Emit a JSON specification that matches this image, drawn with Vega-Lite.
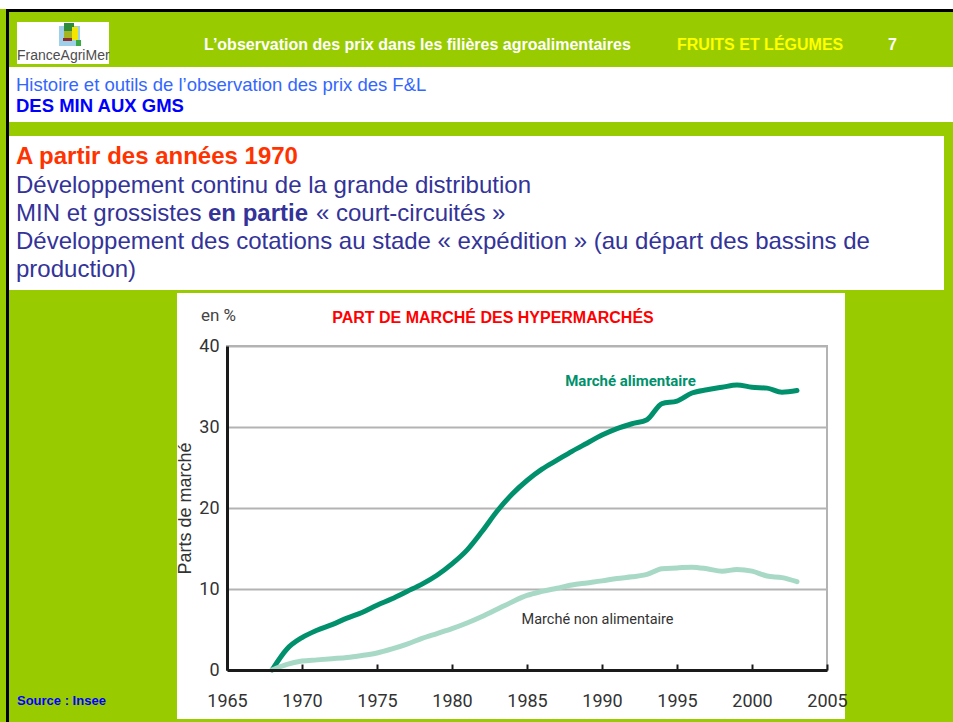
{
  "$schema": "https://vega.github.io/schema/vega-lite/v6.json",
  "width": 600,
  "height": 324,
  "autosize": {"type": "none"},
  "padding": {"left": 227, "top": 346, "right": 126, "bottom": 52},
  "background": "#99cc00",
  "config": {
    "view": {"stroke": "#b3b3b3", "strokeWidth": 2, "fill": "#ffffff"},
    "text": {"font": "Liberation Sans"}
  },
  "datasets": {
    "series": [
      {"year": 1968, "value": 0, "serie": "Marché alimentaire"},
      {"year": 1969, "value": 2.6, "serie": "Marché alimentaire"},
      {"year": 1970, "value": 4.0, "serie": "Marché alimentaire"},
      {"year": 1971, "value": 4.9, "serie": "Marché alimentaire"},
      {"year": 1972, "value": 5.6, "serie": "Marché alimentaire"},
      {"year": 1973, "value": 6.4, "serie": "Marché alimentaire"},
      {"year": 1974, "value": 7.1, "serie": "Marché alimentaire"},
      {"year": 1975, "value": 8.0, "serie": "Marché alimentaire"},
      {"year": 1976, "value": 8.8, "serie": "Marché alimentaire"},
      {"year": 1977, "value": 9.7, "serie": "Marché alimentaire"},
      {"year": 1978, "value": 10.6, "serie": "Marché alimentaire"},
      {"year": 1979, "value": 11.7, "serie": "Marché alimentaire"},
      {"year": 1980, "value": 13.1, "serie": "Marché alimentaire"},
      {"year": 1981, "value": 14.8, "serie": "Marché alimentaire"},
      {"year": 1982, "value": 17.1, "serie": "Marché alimentaire"},
      {"year": 1983, "value": 19.6, "serie": "Marché alimentaire"},
      {"year": 1984, "value": 21.7, "serie": "Marché alimentaire"},
      {"year": 1985, "value": 23.4, "serie": "Marché alimentaire"},
      {"year": 1986, "value": 24.8, "serie": "Marché alimentaire"},
      {"year": 1987, "value": 25.9, "serie": "Marché alimentaire"},
      {"year": 1988, "value": 27.0, "serie": "Marché alimentaire"},
      {"year": 1989, "value": 28.0, "serie": "Marché alimentaire"},
      {"year": 1990, "value": 29.0, "serie": "Marché alimentaire"},
      {"year": 1991, "value": 29.8, "serie": "Marché alimentaire"},
      {"year": 1992, "value": 30.4, "serie": "Marché alimentaire"},
      {"year": 1993, "value": 30.9, "serie": "Marché alimentaire"},
      {"year": 1994, "value": 32.9, "serie": "Marché alimentaire"},
      {"year": 1995, "value": 33.2, "serie": "Marché alimentaire"},
      {"year": 1996, "value": 34.2, "serie": "Marché alimentaire"},
      {"year": 1997, "value": 34.6, "serie": "Marché alimentaire"},
      {"year": 1998, "value": 34.9, "serie": "Marché alimentaire"},
      {"year": 1999, "value": 35.2, "serie": "Marché alimentaire"},
      {"year": 2000, "value": 34.9, "serie": "Marché alimentaire"},
      {"year": 2001, "value": 34.8, "serie": "Marché alimentaire"},
      {"year": 2002, "value": 34.3, "serie": "Marché alimentaire"},
      {"year": 2003, "value": 34.5, "serie": "Marché alimentaire"},
      {"year": 1968, "value": 0, "serie": "Marché non alimentaire"},
      {"year": 1969, "value": 0.7, "serie": "Marché non alimentaire"},
      {"year": 1970, "value": 1.1, "serie": "Marché non alimentaire"},
      {"year": 1971, "value": 1.25, "serie": "Marché non alimentaire"},
      {"year": 1972, "value": 1.4, "serie": "Marché non alimentaire"},
      {"year": 1973, "value": 1.55, "serie": "Marché non alimentaire"},
      {"year": 1974, "value": 1.8, "serie": "Marché non alimentaire"},
      {"year": 1975, "value": 2.1, "serie": "Marché non alimentaire"},
      {"year": 1976, "value": 2.6, "serie": "Marché non alimentaire"},
      {"year": 1977, "value": 3.2, "serie": "Marché non alimentaire"},
      {"year": 1978, "value": 3.9, "serie": "Marché non alimentaire"},
      {"year": 1979, "value": 4.5, "serie": "Marché non alimentaire"},
      {"year": 1980, "value": 5.1, "serie": "Marché non alimentaire"},
      {"year": 1981, "value": 5.8, "serie": "Marché non alimentaire"},
      {"year": 1982, "value": 6.6, "serie": "Marché non alimentaire"},
      {"year": 1983, "value": 7.5, "serie": "Marché non alimentaire"},
      {"year": 1984, "value": 8.4, "serie": "Marché non alimentaire"},
      {"year": 1985, "value": 9.2, "serie": "Marché non alimentaire"},
      {"year": 1986, "value": 9.7, "serie": "Marché non alimentaire"},
      {"year": 1987, "value": 10.1, "serie": "Marché non alimentaire"},
      {"year": 1988, "value": 10.5, "serie": "Marché non alimentaire"},
      {"year": 1989, "value": 10.75, "serie": "Marché non alimentaire"},
      {"year": 1990, "value": 11.0, "serie": "Marché non alimentaire"},
      {"year": 1991, "value": 11.3, "serie": "Marché non alimentaire"},
      {"year": 1992, "value": 11.5, "serie": "Marché non alimentaire"},
      {"year": 1993, "value": 11.8, "serie": "Marché non alimentaire"},
      {"year": 1994, "value": 12.5, "serie": "Marché non alimentaire"},
      {"year": 1995, "value": 12.6, "serie": "Marché non alimentaire"},
      {"year": 1996, "value": 12.7, "serie": "Marché non alimentaire"},
      {"year": 1997, "value": 12.5, "serie": "Marché non alimentaire"},
      {"year": 1998, "value": 12.2, "serie": "Marché non alimentaire"},
      {"year": 1999, "value": 12.4, "serie": "Marché non alimentaire"},
      {"year": 2000, "value": 12.2, "serie": "Marché non alimentaire"},
      {"year": 2001, "value": 11.6, "serie": "Marché non alimentaire"},
      {"year": 2002, "value": 11.4, "serie": "Marché non alimentaire"},
      {"year": 2003, "value": 10.9, "serie": "Marché non alimentaire"}
    ],
    "labels": [
      {"year": 1991.9, "value": 35.7, "label": "Marché alimentaire"},
      {"year": 1989.7, "value": 6.2, "label": "Marché non alimentaire"}
    ]
  },
  "resolve": {"axis": {"y": "independent"}},
  "layer": [
    {"data": {"values": [{}]}, "mark": {"type": "rect", "fill": "#ffffff"}, "encoding": {"x": {"value": -227}, "x2": {"value": 726}, "y": {"value": -346}, "y2": {"value": -337}}},
    {"data": {"values": [{}]}, "mark": {"type": "rect", "fill": "#000000"}, "encoding": {"x": {"value": -221}, "x2": {"value": 726}, "y": {"value": -337}, "y2": {"value": -334}}},
    {"data": {"values": [{}]}, "mark": {"type": "rect", "fill": "#000000"}, "encoding": {"x": {"value": -221}, "x2": {"value": -218}, "y": {"value": -337}, "y2": {"value": 376}}},
    {"data": {"values": [{}]}, "mark": {"type": "rect", "fill": "#ffffff"}, "encoding": {"x": {"value": -210}, "x2": {"value": -118}, "y": {"value": -324}, "y2": {"value": -282}}},
    {"data": {"values": [{}]}, "mark": {"type": "rect", "fill": "#9fd0ea"}, "encoding": {"x": {"value": -168}, "x2": {"value": -147}, "y": {"value": -320}, "y2": {"value": -300}}},
    {"data": {"values": [{}]}, "mark": {"type": "rect", "fill": "#2e8b3a"}, "encoding": {"x": {"value": -163}, "x2": {"value": -153}, "y": {"value": -323}, "y2": {"value": -315}}},
    {"data": {"values": [{}]}, "mark": {"type": "rect", "fill": "#a4b51f"}, "encoding": {"x": {"value": -163}, "x2": {"value": -155}, "y": {"value": -315}, "y2": {"value": -308}}},
    {"data": {"values": [{}]}, "mark": {"type": "rect", "fill": "#f5e600"}, "encoding": {"x": {"value": -155}, "x2": {"value": -149}, "y": {"value": -319}, "y2": {"value": -306}}},
    {"data": {"values": [{}]}, "mark": {"type": "rect", "fill": "#8e2d2d"}, "encoding": {"x": {"value": -164}, "x2": {"value": -155}, "y": {"value": -308}, "y2": {"value": -305}}},
    {"data": {"values": [{}]}, "mark": {"type": "rect", "fill": "#3aa845"}, "encoding": {"x": {"value": -151}, "x2": {"value": -146}, "y": {"value": -306}, "y2": {"value": -300}}},
    {"data": {"values": [{}]}, "mark": {"type": "rect", "fill": "#ffffff"}, "encoding": {"x": {"value": -218}, "x2": {"value": 726}, "y": {"value": -279}, "y2": {"value": -224}}},
    {"data": {"values": [{}]}, "mark": {"type": "rect", "fill": "#ffffff"}, "encoding": {"x": {"value": -218}, "x2": {"value": 717}, "y": {"value": -210}, "y2": {"value": -56}}},
    {"data": {"values": [{}]}, "mark": {"type": "rect", "fill": "#ffffff"}, "encoding": {"x": {"value": -50}, "x2": {"value": 618}, "y": {"value": -53}, "y2": {"value": -1}}},
    {"data": {"values": [{}]}, "mark": {"type": "rect", "fill": "#ffffff"}, "encoding": {"x": {"value": -50}, "x2": {"value": 618}, "y": {"value": 325}, "y2": {"value": 373}}},
    {"data": {"values": [{}]}, "mark": {"type": "rect", "fill": "#ffffff"}, "encoding": {"x": {"value": -50}, "x2": {"value": -1}, "y": {"value": -1}, "y2": {"value": 325}}},
    {"data": {"values": [{}]}, "mark": {"type": "rect", "fill": "#ffffff"}, "encoding": {"x": {"value": 601}, "x2": {"value": 618}, "y": {"value": -1}, "y2": {"value": 325}}},
    {"data": {"values": [{}]}, "mark": {"type": "text", "text": "FranceAgriMer", "align": "left", "baseline": "middle", "font": "Liberation Sans", "fontSize": 14, "fill": "#4d4d4d"}, "encoding": {"x": {"value": -210}, "y": {"value": -290}}},
    {"data": {"values": [{}]}, "mark": {"type": "text", "text": "L’observation des prix dans les filières agroalimentaires", "align": "left", "baseline": "middle", "font": "Liberation Sans", "fontSize": 16, "fontWeight": "bold", "fill": "#ffffff"}, "encoding": {"x": {"value": -23}, "y": {"value": -301}}},
    {"data": {"values": [{}]}, "mark": {"type": "text", "text": "FRUITS ET LÉGUMES", "align": "left", "baseline": "middle", "font": "Liberation Sans", "fontSize": 16, "fontWeight": "bold", "fill": "#ffff00"}, "encoding": {"x": {"value": 450}, "y": {"value": -301}}},
    {"data": {"values": [{}]}, "mark": {"type": "text", "text": "7", "align": "left", "baseline": "middle", "font": "Liberation Sans", "fontSize": 16, "fontWeight": "bold", "fill": "#ffffff"}, "encoding": {"x": {"value": 661}, "y": {"value": -301}}},
    {"data": {"values": [{}]}, "mark": {"type": "text", "text": "Histoire et outils de l’observation des prix des F&L", "align": "left", "baseline": "middle", "font": "Liberation Sans", "fontSize": 18.5, "fill": "#3366ff"}, "encoding": {"x": {"value": -211}, "y": {"value": -261}}},
    {"data": {"values": [{}]}, "mark": {"type": "text", "text": "DES MIN AUX GMS", "align": "left", "baseline": "middle", "font": "Liberation Sans", "fontSize": 18.5, "fontWeight": "bold", "fill": "#0000ff"}, "encoding": {"x": {"value": -211}, "y": {"value": -240}}},
    {"data": {"values": [{}]}, "mark": {"type": "text", "text": "A partir des années 1970", "align": "left", "baseline": "middle", "font": "Liberation Sans", "fontSize": 24, "fontWeight": "bold", "fill": "#ff3300"}, "encoding": {"x": {"value": -211}, "y": {"value": -189}}},
    {"data": {"values": [{}]}, "mark": {"type": "text", "text": "Développement continu de la grande distribution", "align": "left", "baseline": "middle", "font": "Liberation Sans", "fontSize": 24, "fill": "#333399"}, "encoding": {"x": {"value": -211}, "y": {"value": -160}}},
    {"data": {"values": [{}]}, "mark": {"type": "text", "text": "MIN et grossistes", "align": "left", "baseline": "middle", "font": "Liberation Sans", "fontSize": 24, "fill": "#333399"}, "encoding": {"x": {"value": -211}, "y": {"value": -132}}},
    {"data": {"values": [{}]}, "mark": {"type": "text", "text": "en partie", "align": "left", "baseline": "middle", "font": "Liberation Sans", "fontSize": 24, "fontWeight": "bold", "fill": "#333399"}, "encoding": {"x": {"value": -19}, "y": {"value": -132}}},
    {"data": {"values": [{}]}, "mark": {"type": "text", "text": "« court-circuités »", "align": "left", "baseline": "middle", "font": "Liberation Sans", "fontSize": 24, "fill": "#333399"}, "encoding": {"x": {"value": 89}, "y": {"value": -132}}},
    {"data": {"values": [{}]}, "mark": {"type": "text", "text": "Développement des cotations au stade « expédition » (au départ des bassins de", "align": "left", "baseline": "middle", "font": "Liberation Sans", "fontSize": 24, "fill": "#333399"}, "encoding": {"x": {"value": -211}, "y": {"value": -104}}},
    {"data": {"values": [{}]}, "mark": {"type": "text", "text": "production)", "align": "left", "baseline": "middle", "font": "Liberation Sans", "fontSize": 24, "fill": "#333399"}, "encoding": {"x": {"value": -211}, "y": {"value": -76}}},
    {"data": {"values": [{}]}, "mark": {"type": "text", "text": "Source : Insee", "align": "left", "baseline": "middle", "font": "Liberation Sans", "fontSize": 13, "fontWeight": "bold", "fill": "#0000ff"}, "encoding": {"x": {"value": -210}, "y": {"value": 355}}},
    {"data": {"values": [{}]}, "mark": {"type": "text", "text": "en %", "align": "left", "baseline": "middle", "font": "Roboto", "fontSize": 17, "fill": "#444444"}, "encoding": {"x": {"value": -26}, "y": {"value": -30}}},
    {"data": {"values": [{}]}, "mark": {"type": "text", "text": "PART DE MARCHÉ DES HYPERMARCHÉS", "align": "center", "baseline": "middle", "font": "Liberation Sans", "fontSize": 16, "fontWeight": "bold", "fill": "#ff0000"}, "encoding": {"x": {"value": 266}, "y": {"value": -28}}},
    {
      "data": {"name": "series"},
      "mark": {"type": "line", "interpolate": "monotone", "strokeWidth": 5, "strokeCap": "round"},
      "encoding": {
        "x": {
          "field": "year", "type": "quantitative",
          "scale": {"domain": [1965, 2005], "nice": false, "zero": false},
          "axis": {
            "values": [1965, 1970, 1975, 1980, 1985, 1990, 1995, 2000, 2005],
            "format": "d", "title": null, "grid": false, "zindex": 1,
            "domainColor": "#1a1a1a", "domainWidth": 3,
            "tickColor": "#1a1a1a", "tickWidth": 2, "tickSize": -6,
            "labelFont": "Roboto", "labelFontSize": 18, "labelColor": "#333333", "labelPadding": 28,
            "labelFlush": false, "labelOverlap": false
          }
        },
        "y": {
          "field": "value", "type": "quantitative",
          "scale": {"domain": [0, 40], "nice": false},
          "axis": {
            "orient": "left", "values": [10, 20, 30, 40], "grid": true,
            "gridColor": "#b3b3b3", "gridWidth": 2,
            "domain": false, "ticks": false, "labels": false, "title": null,
            "zindex": 0, "minExtent": 0, "maxExtent": 0
          }
        },
        "color": {
          "field": "serie", "type": "nominal",
          "scale": {"domain": ["Marché alimentaire", "Marché non alimentaire"], "range": ["#00916c", "#a8d9c6"]},
          "legend": null
        },
        "order": {"field": "year"}
      }
    },
    {
      "data": {"name": "labels"},
      "transform": [{"filter": "datum.label === 'Marché alimentaire'"}],
      "mark": {"type": "text", "align": "center", "baseline": "middle", "font": "Roboto", "fontSize": 15, "fontWeight": "bold", "fill": "#00916c"},
      "encoding": {
        "x": {
          "field": "year", "type": "quantitative",
          "axis": {
            "values": [1965, 1970, 1975, 1980, 1985, 1990, 1995, 2000, 2005],
            "format": "d", "title": null, "grid": false, "zindex": 1,
            "domainColor": "#1a1a1a", "domainWidth": 3,
            "tickColor": "#1a1a1a", "tickWidth": 2, "tickSize": -6,
            "labelFont": "Roboto", "labelFontSize": 18, "labelColor": "#333333", "labelPadding": 28,
            "labelFlush": false, "labelOverlap": false
          }
        },
        "y": {
          "field": "value", "type": "quantitative",
          "axis": {
            "orient": "left", "values": [0, 10, 20, 30, 40], "grid": false, "zindex": 1,
            "domainColor": "#1a1a1a", "domainWidth": 3, "ticks": false,
            "labelFont": "Roboto", "labelFontSize": 18, "labelColor": "#333333", "labelPadding": 8,
            "title": "Parts de marché", "titleFont": "Liberation Sans", "titleFontSize": 18,
            "titleFontWeight": "normal", "titleColor": "#333333",
            "titleX": -42, "titleY": 162, "titleAngle": -90, "titleAlign": "center", "titleBaseline": "middle"
          }
        },
        "text": {"field": "label"}
      }
    },
    {
      "data": {"name": "labels"},
      "transform": [{"filter": "datum.label === 'Marché non alimentaire'"}],
      "mark": {"type": "text", "align": "center", "baseline": "middle", "font": "Roboto", "fontSize": 14.5, "fill": "#333333"},
      "encoding": {
        "x": {
          "field": "year", "type": "quantitative",
          "axis": {
            "values": [1965, 1970, 1975, 1980, 1985, 1990, 1995, 2000, 2005],
            "format": "d", "title": null, "grid": false, "zindex": 1,
            "domainColor": "#1a1a1a", "domainWidth": 3,
            "tickColor": "#1a1a1a", "tickWidth": 2, "tickSize": -6,
            "labelFont": "Roboto", "labelFontSize": 18, "labelColor": "#333333", "labelPadding": 28,
            "labelFlush": false, "labelOverlap": false
          }
        },
        "y": {"field": "value", "type": "quantitative", "axis": null},
        "text": {"field": "label"}
      }
    }
  ]
}
